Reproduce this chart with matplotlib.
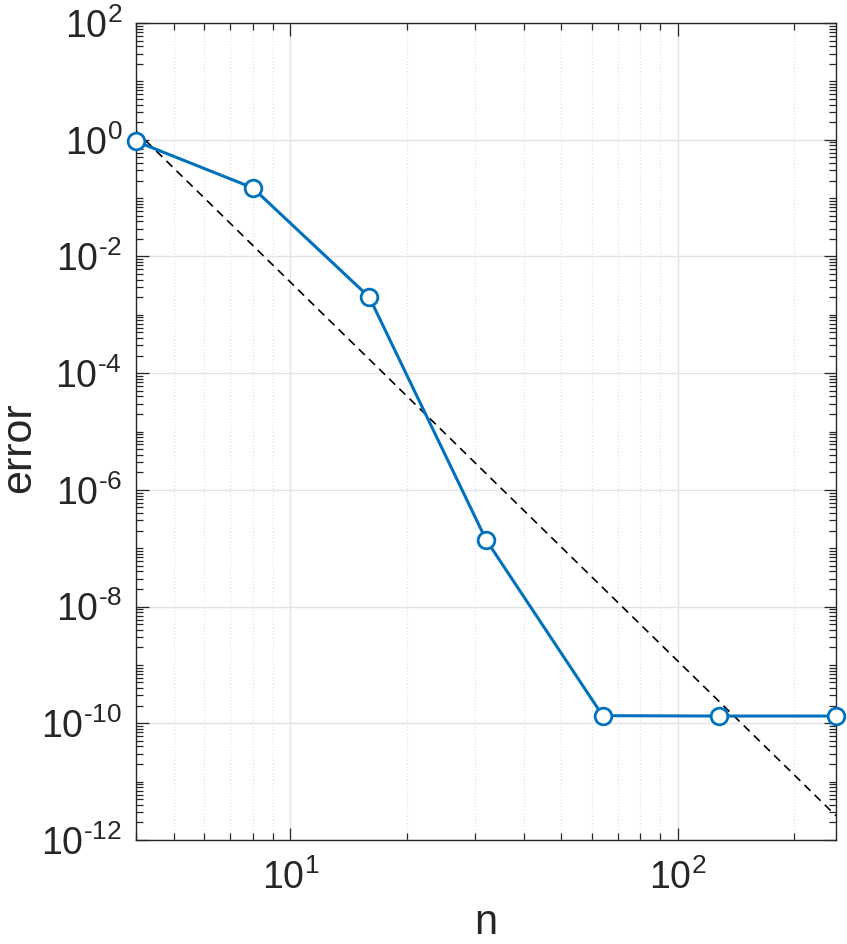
import numpy as np
import matplotlib
matplotlib.use("Agg")
import matplotlib.pyplot as plt
from matplotlib.ticker import LogLocator, FixedLocator, FuncFormatter, NullFormatter

plt.rcParams['font.family'] = ['Liberation Sans', 'DejaVu Sans']
plt.rcParams['mathtext.fontset'] = 'custom'
plt.rcParams['mathtext.rm'] = 'Liberation Sans'
plt.rcParams['mathtext.it'] = 'Liberation Sans'
plt.rcParams['mathtext.default'] = 'regular'

# --- data ---
n_vals = [4, 8, 16, 32, 64, 128, 256]
err_vals = [0.94, 0.15, 2.0e-3, 1.4e-7, 1.35e-10, 1.33e-10, 1.33e-10]

# reference (dashed) line end points
ref_n = [4, 256]
ref_err = [1.4, 2.6e-12]

AX_COLOR = '#262626'
LINE_BLUE = '#0072BD'

fig = plt.figure(figsize=(8.47, 9.44), dpi=100)
ax = fig.add_axes([0.1606, 0.1102, 0.8264, 0.8654])

ax.set_xscale('log')
ax.set_yscale('log')
ax.set_xlim(4, 256)
ax.set_ylim(1e-12, 1e2)

# curves
ax.plot(ref_n, ref_err, '--', color='black', linewidth=1.2, dashes=(5, 3.5), zorder=3)
ax.plot(n_vals, err_vals, '-o', color=LINE_BLUE, linewidth=2.2,
        markersize=12, markerfacecolor='white', markeredgewidth=2.0,
        zorder=4, clip_on=False)

# ticks
ax.xaxis.set_major_locator(FixedLocator([10, 100]))
ax.xaxis.set_minor_locator(LogLocator(base=10, subs=np.arange(2, 10), numticks=20))
ax.yaxis.set_major_locator(FixedLocator([10.0 ** k for k in range(-12, 3, 2)]))
ax.yaxis.set_minor_locator(LogLocator(base=10, subs=np.arange(1, 10), numticks=30))
ax.xaxis.set_minor_formatter(NullFormatter())
ax.yaxis.set_minor_formatter(NullFormatter())

def pow_fmt(v, pos):
    e = int(round(np.log10(v)))
    # MATLAB style short hyphen in the exponent
    s = str(e).replace('-', '\u2010')
    return r'$10^{%s}$' % s

ax.xaxis.set_major_formatter(FuncFormatter(pow_fmt))
ax.yaxis.set_major_formatter(FuncFormatter(pow_fmt))

ax.tick_params(which='both', direction='in', top=True, right=True,
               color=AX_COLOR, labelcolor=AX_COLOR, width=0.9)
ax.tick_params(which='major', length=9, labelsize=27)
ax.tick_params(axis='x', which='major', pad=14)
ax.tick_params(axis='y', which='major', pad=10)
ax.tick_params(which='minor', length=5)

# grid: major solid, x minor dotted
ax.grid(True, which='major', color='#e3e3e3', linewidth=1.0, linestyle='-')
ax.xaxis.grid(True, which='minor', color='#e3e3e3', linewidth=0.9, linestyle=':')
ax.set_axisbelow(True)

for sp in ax.spines.values():
    sp.set_color(AX_COLOR)
    sp.set_linewidth(1.0)

ax.set_xlabel('n', fontsize=30, color=AX_COLOR, labelpad=4)
ax.set_ylabel('error', fontsize=31, color=AX_COLOR)
ax.yaxis.set_label_coords(-0.138, 0.48)

fig.savefig('out.png', dpi=100)
